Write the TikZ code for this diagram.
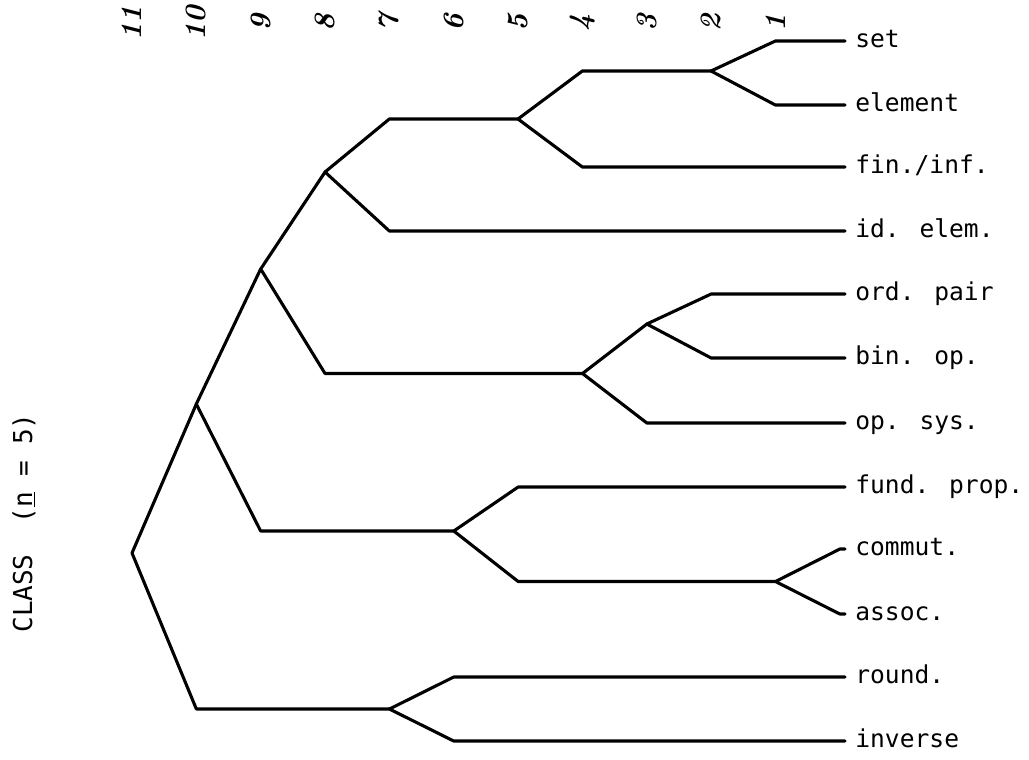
\documentclass[tikz,border=0pt]{standalone}
\usepackage{fontspec}
\usepackage{tikz}
\usetikzlibrary{calc}
\newfontfamily\typefont{DejaVu Sans Mono}

\begin{document}
\begin{tikzpicture}[
    x=0.025cm,
    y=-0.025cm,
    line width=2.2pt,
    line cap=round,
    line join=round,
    leaf/.style={
      anchor=west,
      font=\typefont\fontsize{17.5}{20}\selectfont,
      inner xsep=0.22cm,
      inner ysep=0pt,
      text height=9.5pt,
      text depth=0pt
    },
    level/.style={
      rotate=90,
      inner sep=0pt,
      font=\bfseries\itshape\fontsize{21}{21}\selectfont
    },
    branch/.style={
      to path={-- ($(\tikztostart |- \tikztotarget)+(64.35,0)$) -- (\tikztotarget)}
    }
]
\useasboundingbox (0,0) rectangle (1029,759);

% 1) Leaves (terms)
\node[leaf] (setLeaf)   at (845,41)  {set};
\node[leaf] (elemLeaf)  at (845,105) {element};
\node[leaf] (finLeaf)   at (845,167) {fin./inf.};
\node[leaf] (idLeaf)    at (845,231) {id. elem.};
\node[leaf] (ordLeaf)   at (845,294) {ord. pair};
\node[leaf] (binLeaf)   at (845,358) {bin. op.};
\node[leaf] (opLeaf)    at (845,423) {op. sys.};
\node[leaf] (fundLeaf)  at (845,487) {fund. prop.};
\node[leaf] (commLeaf)  at (845,549) {commut.};
\node[leaf] (assocLeaf) at (845,614) {assoc.};
\node[leaf] (roundLeaf) at (845,677) {round.};
\node[leaf] (invLeaf)   at (845,741) {inverse};

% 2) Merge points, one per level
\coordinate (merge1)  at (775.5,581.5);
\coordinate (merge2)  at (711,71);
\coordinate (merge3)  at (646.8,324);
\coordinate (merge4)  at (582.5,373.5);
\coordinate (merge5)  at (518,119);
\coordinate (merge6)  at (453.8,531);
\coordinate (merge7)  at (389.4,709);
\coordinate (merge8)  at (325,172);
\coordinate (merge9)  at (260.7,269);
\coordinate (merge10) at (196.3,404);
\coordinate (merge11) at (132,553);

% 3) Level numbers along the top
\node[level] (lev1)  at (775.5,23) {1};
\node[level] (lev2)  at (711,23)   {2};
\node[level] (lev3)  at (646.8,23) {3};
\node[level] (lev4)  at (582.5,23) {4};
\node[level] (lev5)  at (518,23)   {5};
\node[level] (lev6)  at (453.8,23) {6};
\node[level] (lev7)  at (389.4,23) {7};
\node[level] (lev8)  at (325,23)   {8};
\node[level] (lev9)  at (260.7,23) {9};
\node[level] (lev10) at (196.3,23) {10};
\node[level] (lev11) at (132,23)   {11};

% 4) Side title
\node[rotate=90, font=\typefont\fontsize{18.5}{20}\selectfont] (classLabel) at (24,523)
  {CLASS\ \ (\underline{n} = 5)};

% BRANCHES
\draw (merge1) to[branch] (commLeaf) (merge1) to[branch] (assocLeaf);
\draw (merge2) to[branch] (setLeaf) (merge2) to[branch] (elemLeaf);
\draw (merge3) to[branch] (ordLeaf) (merge3) to[branch] (binLeaf);
\draw (merge4) to[branch] (merge3) (merge4) to[branch] (opLeaf);
\draw (merge5) to[branch] (merge2) (merge5) to[branch] (finLeaf);
\draw (merge6) to[branch] (fundLeaf) (merge6) to[branch] (merge1);
\draw (merge7) to[branch] (roundLeaf) (merge7) to[branch] (invLeaf);
\draw (merge8) to[branch] (merge5) (merge8) to[branch] (idLeaf);
\draw (merge9) to[branch] (merge8) (merge9) to[branch] (merge4);
\draw (merge10) to[branch] (merge9) (merge10) to[branch] (merge6);
\draw (merge11) to[branch] (merge10) (merge11) to[branch] (merge7);

\end{tikzpicture}
\end{document}
